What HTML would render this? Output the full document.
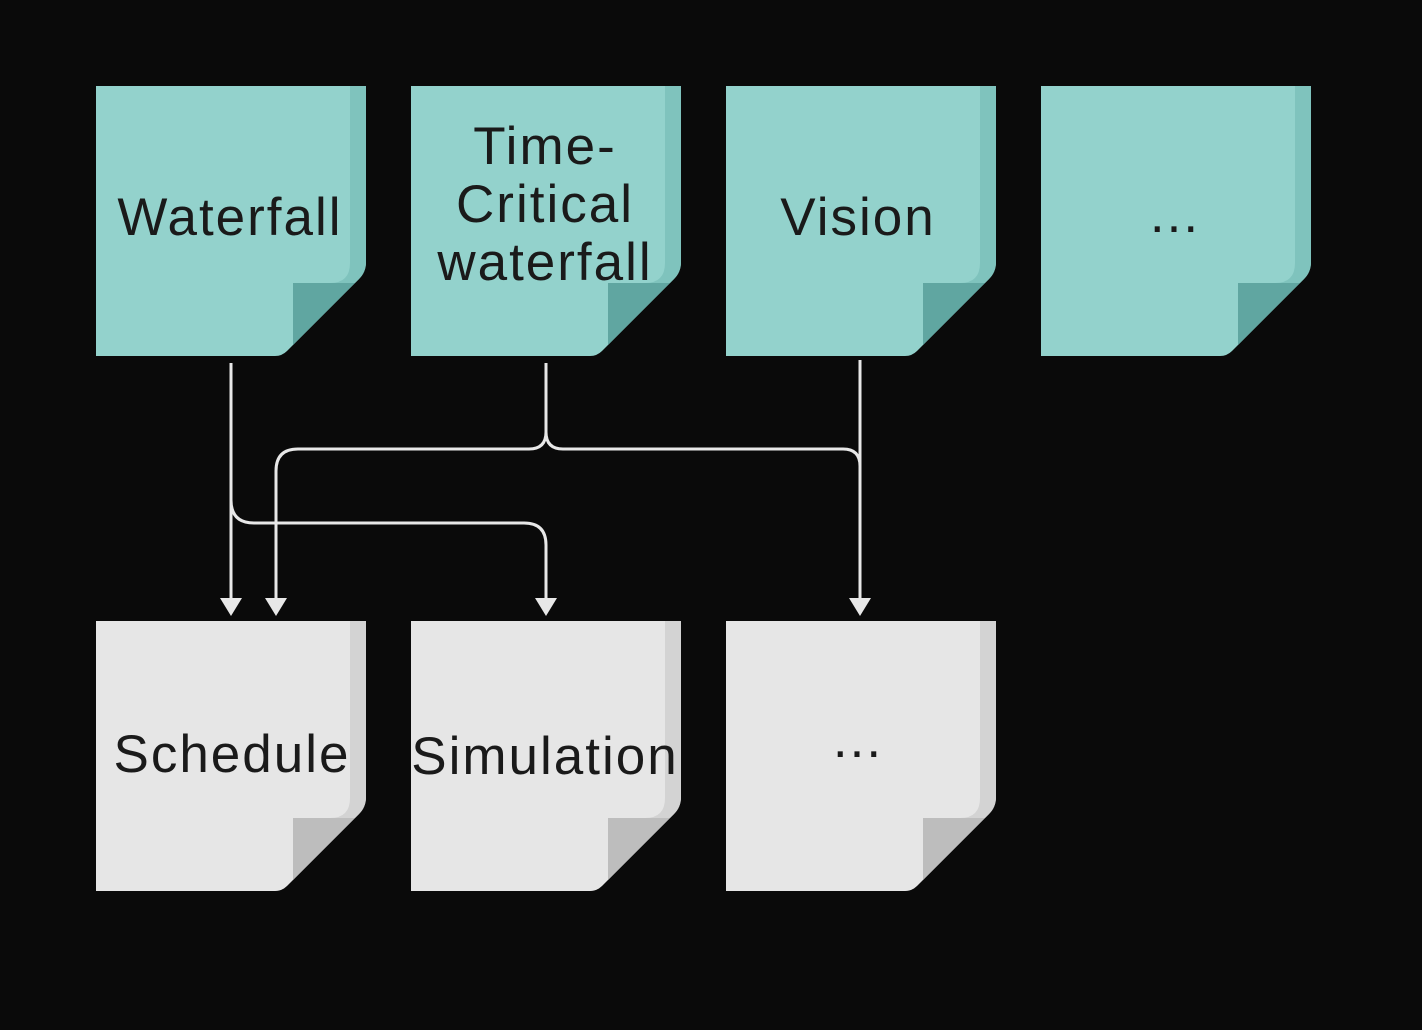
<!DOCTYPE html>
<html><head><meta charset="utf-8"><style>
html,body{margin:0;padding:0;background:#0a0a0a;}
svg{display:block}
text{font-family:"Liberation Sans",sans-serif;font-size:53px;fill:#1a1a1a;text-anchor:middle;letter-spacing:2px}
</style></head><body>
<svg width="1422" height="1030" viewBox="0 0 1422 1030" xmlns="http://www.w3.org/2000/svg">
<defs>
<path id="note" d="M0,0 H270 V176 Q270,186 263,193 L191,265 Q186,270 179,270 H0 Z"/>
<path id="strip" d="M254,0 H270 V176 Q270,186 263,193 L259,197 H234 Q254,197 254,177 Z"/>
<path id="fold" d="M197,197 H259 L197,259 Z"/>
<g id="teal">
<use href="#note" fill="#93d2cc"/>
<use href="#strip" fill="#7fc3bd"/>
<use href="#fold" fill="#60a6a1"/>
</g>
<g id="grey">
<use href="#note" fill="#e6e6e6"/>
<use href="#strip" fill="#d3d3d3"/>
<use href="#fold" fill="#bdbdbd"/>
</g>
</defs>
<use href="#teal" x="96" y="86"/>
<use href="#teal" x="411" y="86"/>
<use href="#teal" x="726" y="86"/>
<use href="#teal" x="1041" y="86"/>
<use href="#grey" x="96" y="621"/>
<use href="#grey" x="411" y="621"/>
<use href="#grey" x="726" y="621"/>

<text x="230" y="235">Waterfall</text>
<text x="545" y="164">Time-</text>
<text x="545" y="222">Critical</text>
<text x="545" y="280">waterfall</text>
<text x="858" y="235">Vision</text>
<text x="1175" y="232">...</text>
<text x="232" y="772">Schedule</text>
<text x="545" y="774">Simulation</text>
<text x="858" y="757">...</text>

<g fill="none" stroke="#e8e8e8" stroke-width="3">
<path d="M231,363 V602"/>
<path d="M231,500 Q231,523 254,523 H524 Q546,523 546,545 V602"/>
<path d="M546,363 V432 Q546,449 529,449 H298 Q276,449 276,471 V602"/>
<path d="M546,432 Q546,449 563,449 H843 Q860,449 860,466"/>
<path d="M860,360 V602"/>
</g>
<g fill="#e8e8e8">
<path d="M220,598 H242 L231,616 Z"/>
<path d="M265,598 H287 L276,616 Z"/>
<path d="M535,598 H557 L546,616 Z"/>
<path d="M849,598 H871 L860,616 Z"/>
</g>
</svg>
</body></html>
